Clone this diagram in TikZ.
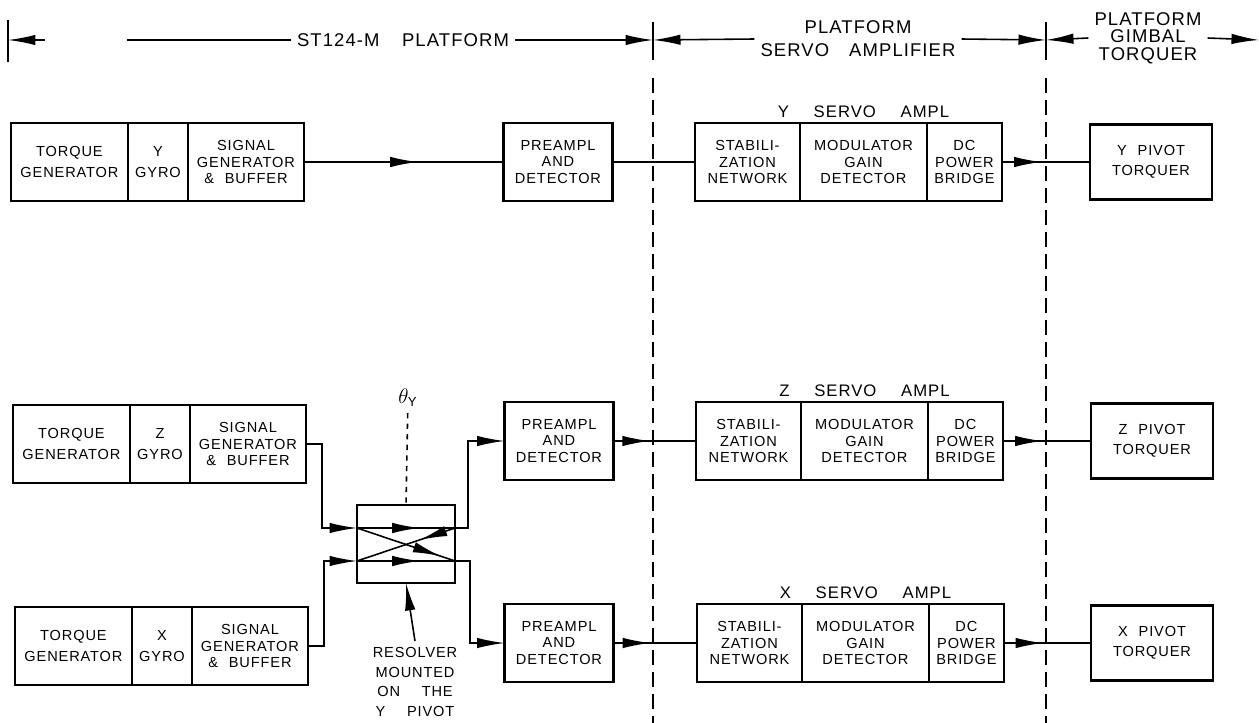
\documentclass[tikz,border=0pt]{standalone}
\usepackage{fontspec}
\setmainfont[LetterSpace=6,WordSpace=2.2]{Liberation Sans}
\usetikzlibrary{positioning,arrows.meta,decorations.markings,calc}

\tikzset{
  blk/.style={draw,line width=1.2pt,outer sep=0pt,inner sep=1pt,
    minimum height=1.55cm,align=center,font=\fontsize{8.3}{9.5}\selectfont},
  two/.style={font=\fontsize{8.3}{11.5}\selectfont},
  wire/.style={line width=0.9pt},
  fat/.tip={Latex[length=5.5mm,width=2.1mm]},
  arrowat/.style={decoration={markings,mark=at position #1 with {\arrow{fat}}},
    postaction={decorate}},
  divider/.style={line width=0.9pt,dash pattern=on 3mm off 1.4mm},
  hdr/.style={align=center,font=\fontsize{10.5}{13}\selectfont},
  lbl/.style={inner sep=2pt,font=\fontsize{9.5}{11}\selectfont},
}

\begin{document}
\begin{tikzpicture}[x=0.02cm,y=-0.02cm]
\useasboundingbox (0,0) rectangle (1259,723);

% section headings
\node[hdr] (h1) at (403,40) {ST124-M\hspace{0.45cm}PLATFORM};
\node[hdr,font=\fontsize{10.5}{13}\selectfont] (h2) at (858,39) {PLATFORM\\SERVO\hspace{0.4cm}AMPLIFIER};
\node[hdr,font=\fontsize{10.5}{10}\selectfont] (h3) at (1148,38) {PLATFORM\\GIMBAL\\TORQUER};
\coordinate (d1) at (653,40);
\coordinate (d2) at (1046,40);
\coordinate (lend) at (8,40);
\coordinate (ltail) at (45,40);
\coordinate (lstart) at (127,40);
\coordinate (rend) at (1259,40);
\draw[wire] (8,20) -- (8,62);
\draw[wire,-{fat}] (ltail) -- (lend);
\draw[wire] (lstart) -- (h1.west);
\draw[wire,-{fat}] (h1.east) -- (d1);
\draw[wire,-{fat}] (h2.west) -- (d1);
\draw[wire,-{fat}] (h2.east) -- (d2);
\draw[wire,-{fat}] (h3.west) -- (d2);
\draw[wire,-{fat}] (h3.east) -- (rend);
\foreach \dx in {653,1046} {
  \draw[wire] (\dx,22) -- (\dx,60);
  \draw[divider] (\dx,78) -- (\dx,723);
}

% Y channel
\node[blk,two,minimum width=2.34cm,anchor=west] (ytq) at (11,162) {TORQUE\\GENERATOR};
\node[blk,two,minimum width=1.2cm,right=0pt of ytq] (ygy) {Y\\GYRO};
\node[blk,minimum width=2.32cm,right=0pt of ygy] (ysg) {SIGNAL\\GENERATOR\\\& BUFFER};
\node[blk,minimum width=2.18cm] (yp) at (558,162) {PREAMPL\\AND\\DETECTOR};
\node[blk,minimum width=2.1cm,anchor=west] (ys1) at (695,162) {STABILI-\\ZATION\\NETWORK};
\node[blk,minimum width=2.54cm,right=0pt of ys1] (ys2) {MODULATOR\\GAIN\\DETECTOR};
\node[blk,minimum width=1.5cm,right=0pt of ys2] (ys3) {DC\\POWER\\BRIDGE};
\node[lbl,above=1pt of ys2] (ylbl) {Y\ \ SERVO\ \ AMPL};
\node[blk,two,minimum width=2.44cm,minimum height=1.5cm] (yt) at (1151,162) {Y PIVOT\\TORQUER};

% Z channel
\node[blk,two,minimum width=2.34cm,anchor=west] (ztq) at (13,444) {TORQUE\\GENERATOR};
\node[blk,two,minimum width=1.2cm,right=0pt of ztq] (zgy) {Z\\GYRO};
\node[blk,minimum width=2.32cm,right=0pt of zgy] (zsg) {SIGNAL\\GENERATOR\\\& BUFFER};
\node[blk,minimum width=2.18cm] (zp) at (559,441) {PREAMPL\\AND\\DETECTOR};
\node[blk,minimum width=2.1cm,anchor=west] (zs1) at (696,441) {STABILI-\\ZATION\\NETWORK};
\node[blk,minimum width=2.54cm,right=0pt of zs1] (zs2) {MODULATOR\\GAIN\\DETECTOR};
\node[blk,minimum width=1.5cm,right=0pt of zs2] (zs3) {DC\\POWER\\BRIDGE};
\node[lbl,above=1pt of zs2] (zlbl) {Z\ \ SERVO\ \ AMPL};
\node[blk,two,minimum width=2.44cm,minimum height=1.5cm] (zt) at (1152,441) {Z PIVOT\\TORQUER};

% X channel
\node[blk,two,minimum width=2.34cm,anchor=west] (xtq) at (15,646) {TORQUE\\GENERATOR};
\node[blk,two,minimum width=1.2cm,right=0pt of xtq] (xgy) {X\\GYRO};
\node[blk,minimum width=2.32cm,right=0pt of xgy] (xsg) {SIGNAL\\GENERATOR\\\& BUFFER};
\node[blk,minimum width=2.18cm] (xp) at (559,643) {PREAMPL\\AND\\DETECTOR};
\node[blk,minimum width=2.1cm,anchor=west] (xs1) at (697,643) {STABILI-\\ZATION\\NETWORK};
\node[blk,minimum width=2.54cm,right=0pt of xs1] (xs2) {MODULATOR\\GAIN\\DETECTOR};
\node[blk,minimum width=1.5cm,right=0pt of xs2] (xs3) {DC\\POWER\\BRIDGE};
\node[lbl,above=1pt of xs2] (xlbl) {X\ \ SERVO\ \ AMPL};
\node[blk,two,minimum width=2.44cm,minimum height=1.5cm] (xt) at (1152,643) {X PIVOT\\TORQUER};

% resolver
\node[draw,line width=1.2pt,outer sep=0pt,minimum width=1.96cm,minimum height=1.56cm] (res) at (406,544) {};
\coordinate (ri1) at ($(res.west)+(0,-16)$);
\coordinate (ri2) at ($(res.west)+(0,17)$);
\coordinate (ro1) at ($(res.east)+(0,-16)$);
\coordinate (ro2) at ($(res.east)+(0,17)$);
\node[font=\fontsize{12}{12}\selectfont] (th) at (408,398) {$\theta_{\mbox{\fontsize{7.5}{7.5}\selectfont Y}}$};
\node[align=center,font=\fontsize{8.3}{11.2}\selectfont] (rl) at (415,682) {RESOLVER\\MOUNTED\\ON\ \ THE\\Y\ \ PIVOT};

% connections
\draw[wire,arrowat=0.57] (ysg.east) -- (yp.west);
\draw[wire] (yp.east) -- (ys1.west);
\draw[wire,arrowat=0.45] (ys3.east) -- (yt.west);
\draw[wire,-{fat}] (zsg.east) -- ++(16,0) |- (ri1);
\draw[wire,-{fat}] (xsg.east) -- ++(16,0) |- (ri2);
\draw[wire,arrowat=0.64] (ri1) -- (ro1);
\draw[wire,arrowat=0.64] (ri2) -- (ro2);
\draw[wire,arrowat=0.85] (ri1) -- (ro2);
\draw[wire,arrowat=0.36] (ro1) -- (ri2);
\draw[wire,-{fat}] (ro1) -- ++(13,0) |- (zp.west);
\draw[wire,-{fat}] (ro2) -- ++(15,0) |- (xp.west);
\draw[wire,dashed] (th) -- (res.north);
\draw[wire,-{fat}] (rl.north) -- (res.south);
\draw[wire,arrowat=0.44] (zp.east) -- (zs1.west);
\draw[wire,arrowat=0.45] (zs3.east) -- (zt.west);
\draw[wire,arrowat=0.44] (xp.east) -- (xs1.west);
\draw[wire,arrowat=0.45] (xs3.east) -- (xt.west);
\end{tikzpicture}
\end{document}
